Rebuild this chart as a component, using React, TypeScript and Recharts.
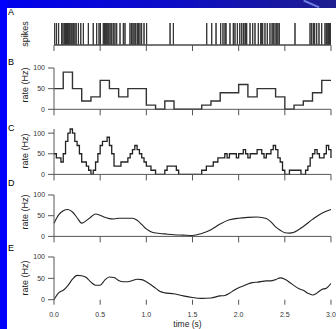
import type { ReactNode } from 'react';
import { LineChart, Line, XAxis, YAxis } from 'recharts';

const FONT = '"Liberation Sans", Arial, sans-serif';
const AXIS_COLOR = '#555';
const INK = '#222';

const timeTicks = [0, 0.5, 1, 1.5, 2, 2.5, 3];
const timeLabels = ['0.0', '0.5', '1.0', '1.5', '2.0', '2.5', '3.0'];
const rateTicks = [0, 50, 100];

// A: spike times (s)
const spikeTimes = [
  0.008, 0.028, 0.05, 0.083, 0.097,
  0.112, 0.125, 0.135, 0.146, 0.153, 0.162, 0.172, 0.185, 0.196,
  0.21, 0.226, 0.24, 0.264, 0.29,
  0.318, 0.372,
  0.425, 0.462, 0.488,
  0.503, 0.534, 0.548, 0.56, 0.571, 0.583, 0.594,
  0.608, 0.625, 0.642, 0.66, 0.679,
  0.715, 0.751, 0.769,
  0.823, 0.84, 0.855, 0.868, 0.885,
  0.902, 0.915, 0.931, 0.949, 0.975,
  1.003,
  1.257, 1.293,
  1.654,
  1.708, 1.755,
  1.805, 1.83, 1.852, 1.863,
  1.906, 1.942, 1.96, 1.986,
  2.012, 2.033, 2.051, 2.069, 2.078, 2.087,
  2.123, 2.152, 2.177,
  2.213, 2.239, 2.25, 2.26, 2.285,
  2.31, 2.339, 2.362, 2.375, 2.394,
  2.412, 2.425, 2.44,
  2.61,
  2.773, 2.791,
  2.809, 2.823, 2.845, 2.87,
  2.899, 2.935, 2.95, 2.965, 2.975, 2.985, 2.993,
];

// B: 100 ms bin histogram
const binStarts = [
  0, 0.1, 0.2, 0.3, 0.4, 0.5, 0.6, 0.7, 0.8, 0.9, 1.0, 1.1, 1.2, 1.3, 1.4, 1.5,
  1.6, 1.7, 1.8, 1.9, 2.0, 2.1, 2.2, 2.3, 2.4, 2.5, 2.6, 2.7, 2.8, 2.9, 3.0,
];
const binRates = [
  50, 90, 50, 20, 30, 70, 50, 30, 50, 50, 10, 0, 20, 0, 0, 0,
  10, 20, 40, 40, 60, 30, 50, 50, 30, 0, 10, 20, 40, 70, 70,
];

// C: sliding window rate, one value every 25 ms
const windowStep = 0.025;
const windowRates = [
  50, 40, 40, 30, 50, 80, 100, 110, 100, 80,
  70, 50, 30, 30, 20, 10, 0, 10, 30, 50,
  70, 80, 80, 90, 70, 50, 20, 20, 20, 30,
  30, 30, 40, 50, 60, 70, 60, 50, 40, 30,
  20, 20, 10, 10, 0, 0, 0, 0, 10, 20,
  20, 20, 20, 10, 0, 0, 0, 0, 0, 0,
  0, 0, 0, 0, 10, 10, 20, 20, 20, 30,
  30, 40, 40, 40, 50, 40, 50, 50, 50, 40,
  50, 50, 60, 50, 40, 50, 50, 50, 60, 60,
  50, 40, 50, 50, 60, 70, 60, 40, 30, 10,
  0, 0, 10, 10, 10, 10, 10, 0, 0, 10,
  20, 40, 50, 60, 50, 40, 40, 50, 70, 60,
  40,
];

// D: gaussian window rate
const gaussTimes = [
  0, 0.05, 0.1, 0.15, 0.2, 0.25, 0.3, 0.35, 0.4, 0.45,
  0.5, 0.55, 0.6, 0.65, 0.7, 0.75, 0.8, 0.85, 0.9, 0.95,
  1.0, 1.05, 1.1, 1.2, 1.3, 1.4, 1.5, 1.6, 1.7, 1.8,
  1.9, 2.0, 2.1, 2.2, 2.3, 2.35, 2.4, 2.45, 2.5, 2.55,
  2.6, 2.7, 2.8, 2.9, 3.0,
];
const gaussRates = [
  32, 52, 62, 65, 59, 45, 32, 38, 47, 54,
  51, 46, 43, 42, 44, 44, 44, 44, 39, 29,
  18, 11, 8, 6, 4, 3, 2, 7, 16, 30,
  40, 44, 46, 47, 43, 35, 23, 15, 9, 8,
  10, 24, 41, 56, 65,
];

// E: causal (alpha) window rate
const alphaTimes = [
  0, 0.05, 0.1, 0.15, 0.2, 0.25, 0.3, 0.35, 0.4, 0.45,
  0.5, 0.55, 0.6, 0.65, 0.7, 0.75, 0.8, 0.85, 0.9, 0.95,
  1.0, 1.05, 1.1, 1.15, 1.2, 1.3, 1.4, 1.5, 1.6, 1.7,
  1.8, 1.85, 1.9, 1.95, 2.0, 2.05, 2.1, 2.15, 2.2, 2.3,
  2.35, 2.4, 2.45, 2.5, 2.55, 2.6, 2.65, 2.7, 2.75, 2.8,
  2.85, 2.9, 2.95, 3.0,
];
const alphaRates = [
  0, 16, 22, 33, 48, 57, 56, 52, 41, 34,
  34, 46, 53, 52, 45, 42, 42, 45, 48, 47,
  42, 35, 27, 19, 16, 14, 9, 5, 3, 4,
  9, 10, 15, 22, 28, 32, 37, 40, 41, 44,
  44, 47, 51, 48, 41, 33, 26, 22, 15, 11,
  16, 24, 27, 38,
];

// each spike drawn as a 0 -> 1 -> 0 excursion of one line
const spikeData = spikeTimes.flatMap((t) => [
  { t, s: 0 },
  { t, s: 1 },
  { t, s: 0 },
]);
const binData = binStarts.map((t, i) => ({ t, r: binRates[i] }));
const windowData = windowRates.map((r, i) => ({ t: i * windowStep, r }));
const gaussData = gaussTimes.map((t, i) => ({ t, r: gaussRates[i] }));
const alphaData = alphaTimes.map((t, i) => ({ t, r: alphaRates[i] }));

const panelLetters = [
  { text: 'A', y: 15 },
  { text: 'B', y: 65 },
  { text: 'C', y: 130.5 },
  { text: 'D', y: 186 },
  { text: 'E', y: 250.5 },
];
const sideLabels = [
  { text: 'spikes', y: 34 },
  { text: 'rate (Hz)', y: 85 },
  { text: 'rate (Hz)', y: 151 },
  { text: 'rate (Hz)', y: 212 },
  { text: 'rate (Hz)', y: 278 },
];

const TICK = { fontSize: 7, fill: '#333', fontFamily: FONT };
const MARGIN_TOP = 4;

interface PanelProps {
  top: number;
  plotHeight: number;
  data: object[];
  yDomain?: [number, number];
  showY?: boolean;
  timeAxis?: boolean;
  children: ReactNode;
}

function Panel({ top, plotHeight, data, yDomain = [0, 100], showY = true, timeAxis = false, children }: PanelProps) {
  const axisHeight = timeAxis ? 30 : 10;
  return (
    <div style={{ position: 'absolute', left: 0, top: top - MARGIN_TOP }}>
      <LineChart
        width={336}
        height={MARGIN_TOP + plotHeight + axisHeight}
        data={data}
        margin={{ top: MARGIN_TOP, right: 5, left: showY ? 24 : 54, bottom: 0 }}
      >
        <XAxis
          dataKey="t"
          type="number"
          domain={[0, 3]}
          ticks={timeTicks}
          interval={0}
          height={axisHeight}
          axisLine={timeAxis ? false : { stroke: AXIS_COLOR }}
          tickLine={{ stroke: AXIS_COLOR }}
          tickSize={timeAxis ? 5 : 6}
          tickMargin={timeAxis ? 7 : 2}
          tick={TICK}
          tickFormatter={(v: number) => (timeAxis ? timeLabels[timeTicks.indexOf(v)] : '')}
          label={
            timeAxis
              ? { value: 'time (s)', position: 'insideBottom', offset: 3, dx: -5, fontSize: 8.5, fill: INK, fontFamily: FONT }
              : undefined
          }
        />
        <YAxis
          hide={!showY}
          type="number"
          domain={yDomain}
          ticks={rateTicks}
          interval={0}
          width={30}
          axisLine={{ stroke: AXIS_COLOR }}
          tickLine={{ stroke: AXIS_COLOR }}
          tickSize={6}
          tickMargin={3}
          tick={TICK}
        />
        {children}
      </LineChart>
    </div>
  );
}

export default function App() {
  return (
    <div
      style={{
        position: 'absolute',
        left: 0,
        top: 0,
        width: 336,
        height: 329,
        overflow: 'hidden',
        background: '#fff',
        fontFamily: FONT,
      }}
    >
      <div style={{ position: 'absolute', left: 0, top: 0, width: 336, height: 8, background: 'linear-gradient(90deg, #0000ee 0%, #0d0dc8 50%, #1e1e8e 100%)' }} />
      <div style={{ position: 'absolute', left: 303, top: 3, width: 17, height: 1.5, background: '#6f7fe0', transform: 'rotate(24deg)' }} />
      <div style={{ position: 'absolute', left: 0, top: 0, width: 7, height: 329, background: '#0000ff' }} />

      <Panel top={23} plotHeight={22} data={spikeData} yDomain={[0, 1]} showY={false}>
        <Line dataKey="s" type="linear" stroke="#333" strokeWidth={1} dot={false} isAnimationActive={false} />
      </Panel>

      <Panel top={67.7} plotHeight={41.3} data={binData}>
        <Line dataKey="r" type="stepAfter" stroke="#333" strokeWidth={1.4} dot={false} isAnimationActive={false} />
      </Panel>

      <Panel top={128.6} plotHeight={45.4} data={windowData} yDomain={[0, 110]}>
        <Line dataKey="r" type="stepAfter" stroke={INK} strokeWidth={1.3} dot={false} isAnimationActive={false} />
      </Panel>

      <Panel top={195.3} plotHeight={41.4} data={gaussData}>
        <Line dataKey="r" type="monotone" stroke={INK} strokeWidth={1.1} dot={false} isAnimationActive={false} />
      </Panel>

      <Panel top={257.3} plotHeight={42.7} data={alphaData} timeAxis>
        <Line dataKey="r" type="monotone" stroke={INK} strokeWidth={1.1} dot={false} isAnimationActive={false} />
      </Panel>

      <svg width={336} height={329} style={{ position: 'absolute', left: 0, top: 0, pointerEvents: 'none' }}>
        {panelLetters.map((l) => (
          <text key={l.text} x={8} y={l.y} fontSize={9} fontFamily={FONT} fill="#000">
            {l.text}
          </text>
        ))}
        {sideLabels.map((l) => (
          <text
            key={l.y}
            x={25}
            y={l.y}
            transform={`rotate(-90 25 ${l.y})`}
            textAnchor="middle"
            dominantBaseline="central"
            fontSize={9}
            fontFamily={FONT}
            fill={INK}
          >
            {l.text}
          </text>
        ))}
      </svg>
    </div>
  );
}
